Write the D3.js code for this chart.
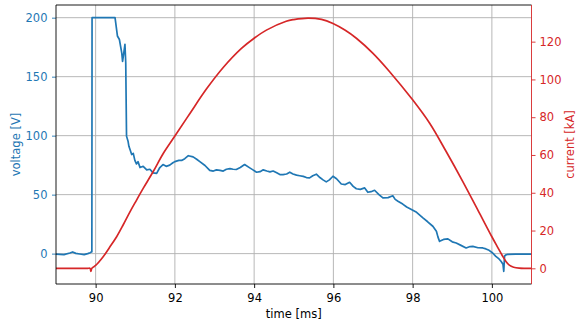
<!DOCTYPE html>
<html><head><meta charset="utf-8">
<script src="https://cdn.jsdelivr.net/npm/d3@7"></script>
<style>
html,body{margin:0;padding:0;background:#fff;}
svg{display:block;font-family:"DejaVu Sans",sans-serif;}
</style></head>
<body>
<svg id="chart" width="577" height="322"></svg>
<script>
// ---- data ----
const voltageTime = [89.0,89.2,89.35,89.42,89.5,89.6,89.71,89.8,89.86,89.9,89.905,89.91,90.2,90.49,90.55,90.6,90.66,90.68,90.71,90.74,90.76,90.78,90.82,90.84,90.87,90.91,90.95,90.99,91.03,91.07,91.12,91.2,91.29,91.37,91.45,91.54,91.62,91.7,91.78,91.87,91.95,92.0,92.1,92.17,92.25,92.34,92.46,92.55,92.63,92.76,92.88,92.97,93.05,93.14,93.22,93.3,93.39,93.47,93.55,93.65,93.76,93.89,93.97,94.06,94.15,94.23,94.32,94.4,94.48,94.57,94.65,94.73,94.82,94.9,94.98,95.07,95.15,95.24,95.32,95.4,95.48,95.57,95.66,95.74,95.82,95.9,95.99,96.08,96.2,96.3,96.41,96.5,96.58,96.68,96.79,96.87,96.95,97.04,97.15,97.25,97.38,97.5,97.56,97.63,97.75,97.85,97.97,98.1,98.26,98.38,98.51,98.6,98.64,98.68,98.78,98.89,99.0,99.1,99.22,99.35,99.45,99.52,99.65,99.77,99.85,99.93,100.02,100.1,100.18,100.23,100.28,100.3,100.32,100.36,100.4,100.6,100.8,101.0];
const voltageValues = [-0.5,-0.8,0.5,1.4,0.2,-0.3,-0.8,0,0.8,1.5,1.5,200,200,200,184.5,181.5,170,163,170,177.4,162,99.6,95,91,88,84,85,79,76,78,73,74,71,71.5,68.5,68,73,75.5,74,75,77,78,79,79,80.5,83,82,80,78,74.7,70.5,70,71,70.5,70,71.5,72,71.5,71.3,73,75.5,72.7,71,69,69.5,71,70,69.3,70,68.5,67,67,67.5,69,67.5,66.5,66,65.5,64.5,64.2,66,67.3,64.5,62.5,60.8,62.5,65.6,63.5,59,58.5,60.5,57,55,54.5,55.7,52,52.5,53.7,50,47.2,47.5,49,46,44.4,42,39.5,37.4,35,30.3,27,23.2,19,14,10.4,12,12.5,10,9,7,4.8,6,6.2,5,4.8,4,2.8,0.5,-2.3,-4.5,-6.5,-9,-15,-2,-1,-0.6,-0.5,-0.5,-0.5];

const currentTime = [89.0,89.3,89.6,89.8,89.86,89.88,89.9,89.93,90.0,90.19,90.35,90.53,90.7,90.87,91.03,91.2,91.45,91.71,92.0,92.38,92.8,93.22,93.68,94.0,94.31,94.81,95.0,95.36,95.7,95.99,96.3,96.58,97.0,97.42,98.0,98.43,98.85,99.27,99.69,100.0,100.15,100.27,100.36,100.44,100.55,100.69,100.85,101.0];
const currentValues = [0,0,0,0,0,-1.6,-0.2,0.5,1.5,6.1,11,16.7,23.2,30,36,42.3,51.1,60.9,70,82,95,106.3,116.4,121.8,126.1,130.8,131.7,132.5,131.8,129.6,126,121.8,113.8,104.1,89.2,76.8,61.7,45.8,29.1,16.7,11,6.5,3.5,1.7,0.6,0.1,0,0];

const timeTicks = [90,92,94,96,98,100];
const voltageTicks = [0,50,100,150,200];
const currentTicks = [0,20,40,60,80,100,120];

// ---- layout ----
const L = 56, R = 531.5, T = 5, B = 284;
const blue = "#1f77b4", red = "#d62728";
const fs = 11.5;

const svg = d3.select("#chart");
const x = d3.scaleLinear().domain([89, 101]).range([L, R]);
const yV = d3.scaleLinear().domain([-25.75, 210.75]).range([B, T]);
const yI = d3.scaleLinear().domain([-8.3, 139.4]).range([B, T]);

// grid
const grid = svg.append("g").attr("stroke", "#b0b0b0").attr("stroke-width", 0.9);
timeTicks.forEach(t => grid.append("line").attr("x1", x(t)).attr("x2", x(t)).attr("y1", T).attr("y2", B));
voltageTicks.forEach(v => grid.append("line").attr("x1", L).attr("x2", R).attr("y1", yV(v)).attr("y2", yV(v)));

svg.append("clipPath").attr("id", "clip").append("rect").attr("x", L).attr("y", T).attr("width", R - L).attr("height", B - T);

const vData = voltageTime.map((t, i) => [t, voltageValues[i]]);
const iData = currentTime.map((t, i) => [t, currentValues[i]]);

svg.append("path").attr("clip-path", "url(#clip)")
  .attr("d", d3.line().x(d => x(d[0])).y(d => yV(d[1]))(vData))
  .attr("fill", "none").attr("stroke", blue).attr("stroke-width", 1.7).attr("stroke-linejoin", "round");

svg.append("path").attr("clip-path", "url(#clip)")
  .attr("d", d3.line().x(d => x(d[0])).y(d => yI(d[1])).curve(d3.curveCatmullRom.alpha(0.5))(iData))
  .attr("fill", "none").attr("stroke", red).attr("stroke-width", 1.7).attr("stroke-linejoin", "round");

// axes
const xAxis = svg.append("g").attr("transform", `translate(0,${B})`)
  .call(d3.axisBottom(x).tickValues(timeTicks).tickSize(4).tickPadding(5.5).tickFormat(d3.format("d")));
xAxis.select(".domain").remove();
xAxis.selectAll("line").attr("stroke", "#000").attr("stroke-width", 0.9);
xAxis.selectAll("text").attr("font-size", fs).attr("font-family", "DejaVu Sans").attr("fill", "#000");

const yAxisL = svg.append("g").attr("transform", `translate(${L},0)`)
  .call(d3.axisLeft(yV).tickValues(voltageTicks).tickSize(4).tickPadding(4.5).tickFormat(d3.format("d")));
yAxisL.select(".domain").remove();
yAxisL.selectAll("line").attr("stroke", blue).attr("stroke-width", 0.9);
yAxisL.selectAll("text").attr("font-size", fs).attr("font-family", "DejaVu Sans").attr("fill", blue);

const yAxisR = svg.append("g").attr("transform", `translate(${R},0)`)
  .call(d3.axisRight(yI).tickValues(currentTicks).tickSize(4).tickPadding(4).tickFormat(d3.format("d")));
yAxisR.select(".domain").remove();
yAxisR.selectAll("line").attr("stroke", red).attr("stroke-width", 0.9);
yAxisR.selectAll("text").attr("font-size", fs).attr("font-family", "DejaVu Sans").attr("fill", red);

// spines
const sp = svg.append("g").attr("stroke-width", 0.9).attr("fill", "none");
sp.append("line").attr("x1", L).attr("x2", R).attr("y1", T).attr("y2", T).attr("stroke", "#000");
sp.append("line").attr("x1", L).attr("x2", R).attr("y1", B).attr("y2", B).attr("stroke", "#000");
sp.append("line").attr("x1", L).attr("x2", L).attr("y1", T).attr("y2", B).attr("stroke", "#000");
sp.append("line").attr("x1", R).attr("x2", R).attr("y1", T).attr("y2", B).attr("stroke", red);

// labels
svg.append("text").attr("x", (L + R) / 2).attr("y", 318).attr("text-anchor", "middle")
  .attr("font-size", fs).attr("fill", "#000").text("time [ms]");
svg.append("text").attr("transform", `translate(19.5,${(T + B) / 2}) rotate(-90)`).attr("text-anchor", "middle")
  .attr("font-size", fs).attr("fill", blue).text("voltage [V]");
svg.append("text").attr("transform", `translate(574,${(T + B) / 2}) rotate(-90)`).attr("text-anchor", "middle")
  .attr("font-size", fs).attr("fill", red).text("current [kA]");
</script>
</body></html>
